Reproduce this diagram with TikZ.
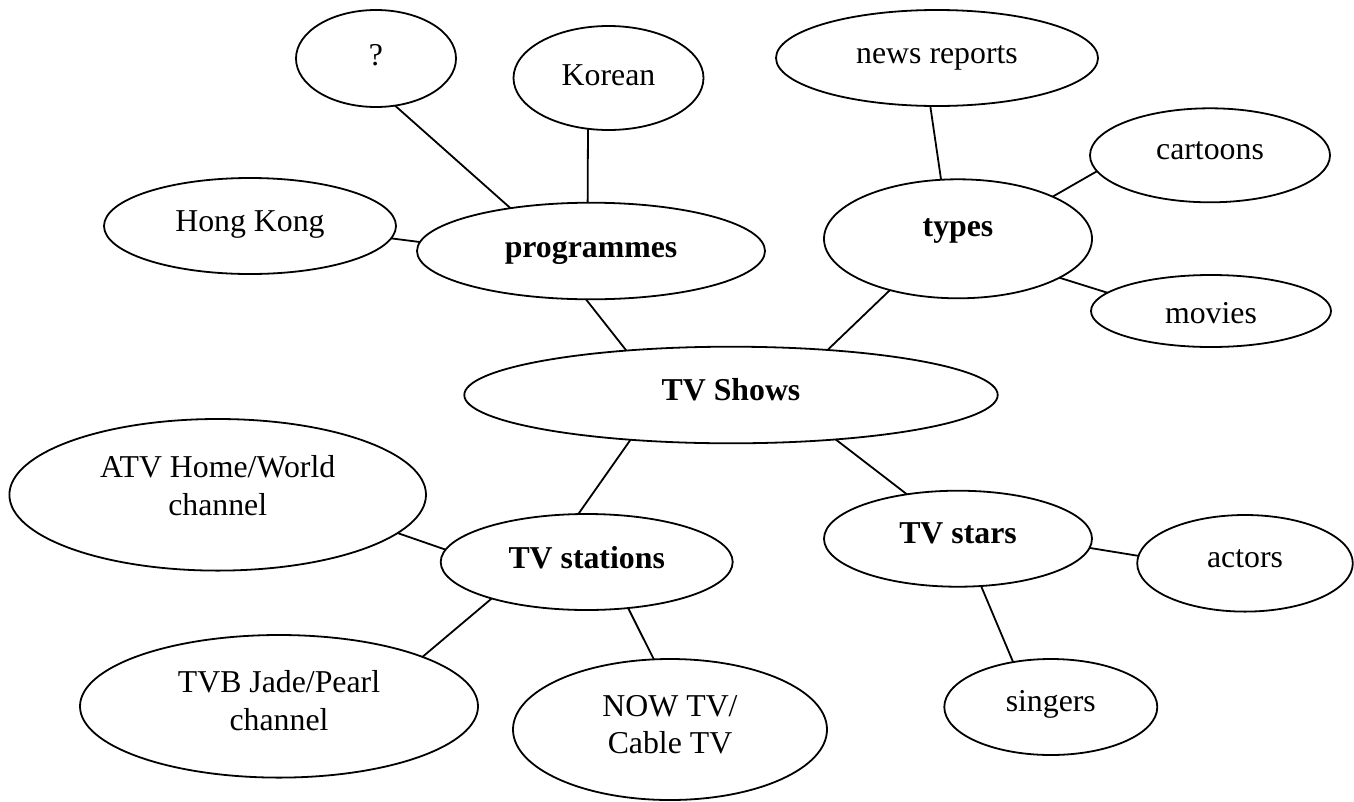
\documentclass[tikz,border=0pt]{standalone}
\usepackage{fontspec}
\setmainfont{Liberation Serif}
\usetikzlibrary{shapes.geometric}
\tikzset{
  bubble/.style={ellipse, draw=black, line width=1.8pt, inner sep=0pt, outer sep=0pt,
    font=\fontsize{31.8pt}{37.3pt}\selectfont, align=center},
  link/.style={draw=black, line width=1.8pt}
}
\begin{document}
\begin{tikzpicture}[x=1pt,y=-1pt]
\path[fill=white] (0,0) rectangle (1354,801);
\useasboundingbox (0,0) rectangle (1354,801);
% nodes
\node[bubble, minimum width=160pt, minimum height=97pt, text height=24.5pt, text depth=11.5pt] (q) at (376,58.5) {?};
\node[bubble, minimum width=190pt, minimum height=104pt, text height=25.5pt, text depth=10.5pt] (korean) at (608.5,78) {Korean};
\node[bubble, minimum width=322pt, minimum height=96pt, text height=23.8pt, text depth=12.2pt] (news) at (937,58) {news reports};
\node[bubble, minimum width=240pt, minimum height=94pt, text height=22.5pt, text depth=13.5pt] (cartoons) at (1210,155.3) {cartoons};
\node[bubble, minimum width=292pt, minimum height=96pt, text height=23pt, text depth=13pt] (hk) at (250,226) {Hong Kong};
\node[bubble, minimum width=348pt, minimum height=96.6pt, text height=24.2pt, text depth=11.8pt] (prog) at (591,251) {\textbf{programmes}};
\node[bubble, minimum width=268pt, minimum height=119pt, text height=15.5pt, text depth=20.5pt] (types) at (958,238.8) {\textbf{types}};
\node[bubble, minimum width=240pt, minimum height=72pt, text height=30pt, text depth=6pt] (movies) at (1211,311) {movies};
\node[bubble, minimum width=533.4pt, minimum height=96.6pt, text height=23.5pt, text depth=12.5pt] (shows) at (731,395) {\textbf{TV Shows}};
\node[bubble, minimum width=416.6pt, minimum height=151.6pt, text height=45.2pt, text depth=4.8pt] (atv) at (217.7,494.8) {ATV Home/World\\channel};
\node[bubble, minimum width=292pt, minimum height=96pt, text height=24.2pt, text depth=11.8pt] (stations) at (586.7,562) {\textbf{TV stations}};
\node[bubble, minimum width=268pt, minimum height=96pt, text height=22.5pt, text depth=13.5pt] (stars) at (958,538.7) {\textbf{TV stars}};
\node[bubble, minimum width=215.6pt, minimum height=96.6pt, text height=22.5pt, text depth=13.5pt] (actors) at (1245,563.3) {actors};
\node[bubble, minimum width=398pt, minimum height=142.6pt, text height=48.7pt, text depth=1.3pt] (tvb) at (279,706.3) {TVB Jade/Pearl\\channel};
\node[bubble, minimum width=314pt, minimum height=141pt, text height=48.8pt, text depth=1.2pt] (now) at (670,729.5) {NOW TV/\\Cable TV};
\node[bubble, minimum width=213pt, minimum height=96pt, text height=22.5pt, text depth=13.5pt] (singers) at (1050.8,707) {singers};
% connectors
\draw[link] (q.-68.6) -- (prog.152.5);
\draw[link] (korean.-112.5) -- (prog.94.7);
\draw[link] (hk.-5.1) -- (prog.177.2);
\draw[link] (prog.-96.4) -- (shows.157);
\draw[link] (types.-143.4) -- (shows.25.9);
\draw[link] (news.-98.9) -- (types.106.6);
\draw[link] (cartoons.-172.2) -- (types.24.3);
\draw[link] (movies.170.8) -- (types.-21.9);
\draw[link] (shows.-156.8) -- (stations.100.9);
\draw[link] (shows.-23.6) -- (stars.139.5);
\draw[link] (atv.-12.2) -- (stations.175.2);
\draw[link] (tvb.19.6) -- (stations.-159.9);
\draw[link] (now.103.9) -- (stations.-48);
\draw[link] (stars.-4.2) -- (actors.176.4);
\draw[link] (stars.-64.4) -- (singers.130.1);
\end{tikzpicture}
\end{document}
